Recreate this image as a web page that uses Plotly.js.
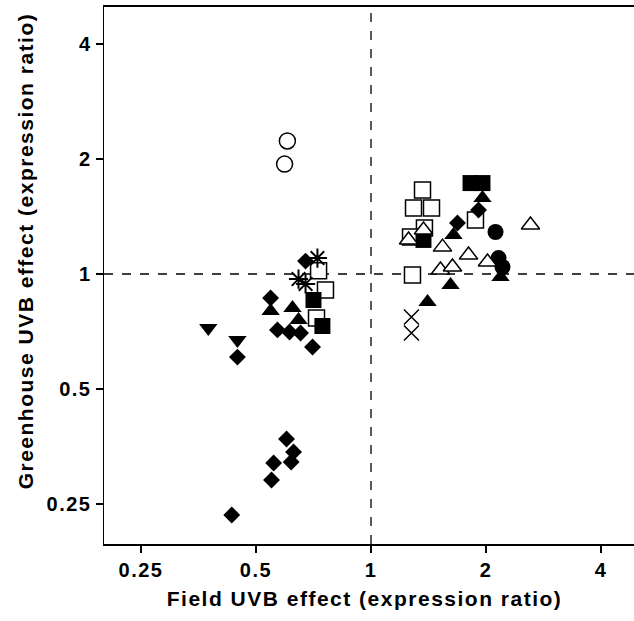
<!DOCTYPE html>
<html>
<head>
<meta charset="utf-8">
<script src="https://cdn.plot.ly/plotly-3.0.1.min.js"></script>
<style>
html,body{margin:0;padding:0;background:#fff;overflow:hidden}
#chart text{letter-spacing:1.5px}
</style>
</head>
<body>
<div id="chart" style="width:634px;height:621px"></div>
<script>
// Data (field vs greenhouse expression ratio)
var tickVals = [0.25, 0.5, 1, 2, 4];
var tickText = ["0.25", "0.5", "1", "2", "4"];
var xTitle = "Field UVB effect (expression ratio)";
var yTitle = "Greenhouse UVB effect (expression ratio)";

var openCircleX = [0.604, 0.594];
var openCircleY = [2.23, 1.94];

var downTriX = [0.375, 0.447];
var downTriY = [0.722, 0.672];

var diamondX = [0.447, 0.546, 0.569, 0.612, 0.654, 0.703, 0.674, 0.601, 0.627, 0.618, 0.556, 0.549, 0.432, 1.684, 1.912];
var diamondY = [0.606, 0.865, 0.714, 0.705, 0.701, 0.644, 1.081, 0.370, 0.342, 0.322, 0.320, 0.289, 0.234, 1.360, 1.471];

var upTriX = [0.546, 0.623, 0.646, 1.958, 1.644, 1.615, 1.406, 2.183];
var upTriY = [0.800, 0.815, 0.758, 1.581, 1.265, 0.936, 0.845, 0.982];

var openSquareX = [0.729, 0.760, 0.720, 1.364, 1.292, 1.440, 1.380, 1.269, 1.877, 1.284];
var openSquareY = [1.02, 0.908, 0.767, 1.659, 1.489, 1.489, 1.320, 1.250, 1.385, 0.994];

var squareX = [0.707, 0.746, 1.822, 1.958, 1.372];
var squareY = [0.855, 0.731, 1.730, 1.730, 1.228];

var openTriX = [2.615, 1.254, 1.372, 1.539, 1.800, 2.018, 1.520, 1.634];
var openTriY = [1.344, 1.228, 1.304, 1.176, 1.121, 1.075, 1.024, 1.043];

var circleX = [2.118, 2.157, 2.209];
var circleY = [1.288, 1.101, 1.043];

var crossX = [1.276, 1.276];
var crossY = [0.772, 0.701];

var starX = [0.724, 0.646, 0.674];
var starY = [1.101, 0.970, 0.942];

function tr(x, y, symbol, size, fill, lw) {
  return {
    type: 'scatter', mode: 'markers', x: x, y: y, hoverinfo: 'skip',
    marker: {symbol: symbol, size: size, color: fill,
             line: {color: '#000', width: lw}}
  };
}

var data = [
  tr(openSquareX, openSquareY, 'square', 16, '#fff', 1.5),
  tr(squareX, squareY, 'square', 16, '#000', 0),
  tr(diamondX, diamondY, 'diamond', 13, '#000', 0),
  tr(upTriX, upTriY, 'triangle-up', 16, '#000', 0),
  tr(downTriX, downTriY, 'triangle-down', 16, '#000', 0),
  tr(circleX, circleY, 'circle', 16, '#000', 0),
  tr(openTriX, openTriY, 'triangle-up', 16, '#fff', 1.5),
  tr(openCircleX, openCircleY, 'circle', 16, '#fff', 1.5),
  tr(crossX, crossY, 'x-thin-open', 15, '#000', 1.5),
  tr(starX, starY, 'asterisk-open', 16, '#000', 2)
];

var fontFam = 'Liberation Sans, Arial, sans-serif';
var rngX = [Math.log10(0.2), Math.log10(0.2) + 530 / 382];
var rngY = [Math.log10(5) - 537 / 382, Math.log10(5)];

var layout = {
  width: 634, height: 621,
  margin: {l: 104, r: 0, t: 7, b: 77},
  paper_bgcolor: '#fff', plot_bgcolor: '#fff',
  showlegend: false,
  font: {family: fontFam, color: '#000'},
  xaxis: {
    type: 'log', range: rngX, tickmode: 'array', tickvals: tickVals, ticktext: tickText,
    ticks: 'outside', ticklen: 7, tickwidth: 1.5, tickcolor: '#000',
    showline: true, linecolor: '#000', linewidth: 2, mirror: true,
    showgrid: false, zeroline: false,
    tickfont: {family: fontFam, size: 20, color: '#000', weight: 'bold'}
  },
  yaxis: {
    type: 'log', range: rngY, tickmode: 'array', tickvals: tickVals, ticktext: tickText,
    ticks: 'outside', ticklen: 7, tickwidth: 1.5, tickcolor: '#000',
    showline: true, linecolor: '#000', linewidth: 1.5, mirror: false,
    showgrid: false, zeroline: false,
    tickfont: {family: fontFam, size: 20, color: '#000', weight: 'bold'}
  },
  annotations: [
    {text: '<b>' + xTitle + '</b>', xref: 'paper', yref: 'paper', x: 0.4906, y: -0.1024,
     xanchor: 'center', yanchor: 'middle', showarrow: false,
     font: {family: fontFam, size: 21, color: '#000'}},
    {text: '<b>' + yTitle + '</b>', xref: 'paper', yref: 'paper', x: -0.148, y: 0.546,
     xanchor: 'center', yanchor: 'middle', showarrow: false, textangle: -90,
     font: {family: fontFam, size: 21, color: '#000'}}
  ],
  shapes: [
    {type: 'line', xref: 'x', yref: 'paper', x0: 1, x1: 1, y0: 0, y1: 1, layer: 'below',
     line: {color: '#000', width: 1.3, dash: 'dash'}},
    {type: 'line', xref: 'paper', yref: 'y', x0: 0, x1: 1, y0: 1, y1: 1, layer: 'below',
     line: {color: '#000', width: 1.3, dash: 'dash'}}
  ]
};

Plotly.newPlot('chart', data, layout, {displayModeBar: false, staticPlot: true});
</script>
</body>
</html>
